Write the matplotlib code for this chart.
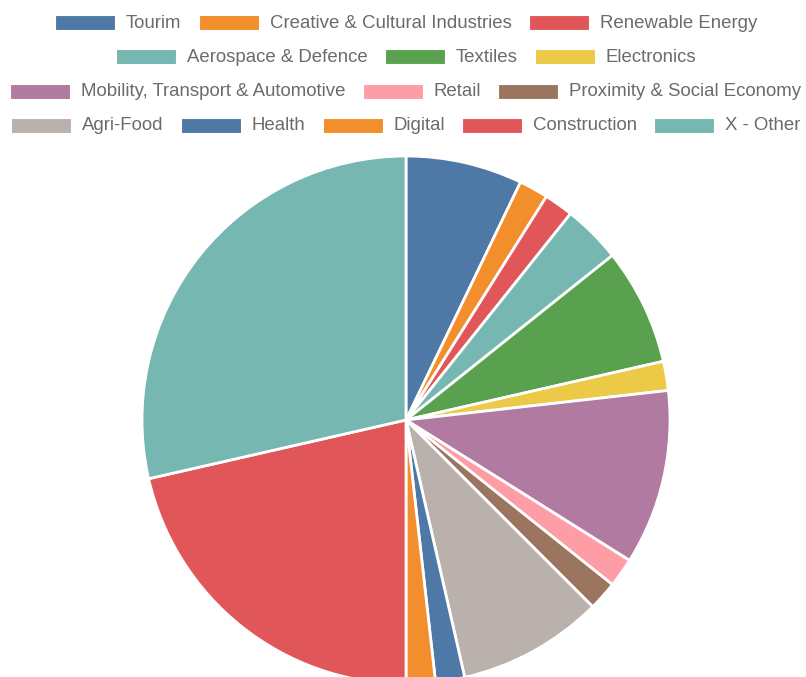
import matplotlib
matplotlib.use("Agg")
import matplotlib.pyplot as plt
import matplotlib.patches as mpatches

# sector counts (clockwise from 12 o'clock)
sectors = [
    "Tourim", "Creative & Cultural Industries", "Renewable Energy",
    "Aerospace & Defence", "Textiles", "Electronics",
    "Mobility, Transport & Automotive", "Retail", "Proximity & Social Economy",
    "Agri-Food", "Health", "Digital", "Construction", "X - Other",
]
counts = [4, 1, 1, 2, 4, 1, 6, 1, 1, 5, 1, 1, 12, 16]

palette = ["#4e79a7", "#f28e2b", "#e15759", "#76b7b2", "#59a14f",
           "#edc948", "#b07aa1", "#ff9da7", "#9c755f", "#bab0ac"]
colors = [palette[i % len(palette)] for i in range(len(sectors))]

legend_rows = [[0, 1, 2], [3, 4, 5], [6, 7, 8], [9, 10, 11, 12, 13]]

W, H = 806, 677
fig = plt.figure(figsize=(W / 100, H / 100), dpi=100)

# pie axes, placed in pixels: centre (406, 420), radius 264
cx, cy, r = 406, 420, 264
ax = fig.add_axes([(cx - r) / W, (H - cy - r) / H, 2 * r / W, 2 * r / H])
ax.pie(counts, colors=colors, startangle=90, counterclock=False, radius=1,
       wedgeprops=dict(edgecolor="white", linewidth=2))
ax.set_xlim(-1, 1)
ax.set_ylim(-1, 1)
ax.set_aspect("auto")
ax.axis("off")

# legend drawn in pixel coordinates on an overlay axes
lax = fig.add_axes([0, 0, 1, 1], facecolor="none")
lax.set_xlim(0, W)
lax.set_ylim(H, 0)
lax.axis("off")

font = dict(family="Liberation Sans", size=13.45, color="#6b6b6b")
box_w, box_h, gap, sep = 60, 15, 11, 17
row_y = [22, 56, 91, 125]

fig.canvas.draw()
renderer = fig.canvas.get_renderer()

def text_width(s):
    t = lax.text(0, 0, s, **font)
    w = t.get_window_extent(renderer).width
    t.remove()
    return w

for row, y in zip(legend_rows, row_y):
    widths = [box_w + gap + text_width(sectors[i]) for i in row]
    total = sum(widths) + sep * (len(row) - 1)
    x = 406 - total / 2
    for i, w in zip(row, widths):
        lax.add_patch(mpatches.Rectangle((x, y - box_h / 2), box_w, box_h,
                                         facecolor=colors[i], edgecolor="white",
                                         linewidth=0.8))
        lax.text(x + box_w + gap, y + 1, sectors[i], va="center", ha="left", **font)
        x += w + sep

fig.savefig("out.png", dpi=100)
